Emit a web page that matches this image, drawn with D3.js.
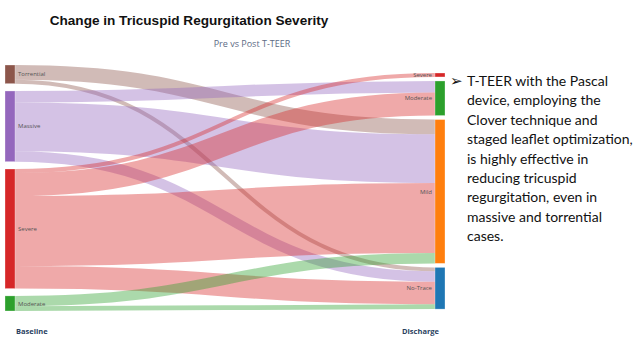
<!DOCTYPE html>
<html><head><meta charset="utf-8">
<script src="https://cdn.jsdelivr.net/npm/d3@7"></script>
<style>
body{margin:0;background:#fff;}
svg{display:block;}
</style></head>
<body>
<svg id="c" width="640" height="360"></svg>
<script>
// ---- data ----
const leftNodes = ["Torrential","Massive","Severe","Moderate"];
const rightNodes = ["Severe","Moderate","Mild","No-Trace"];
const leftColors = ["#8c564b","#9467bd","#d62728","#2ca02c"];
const rightColors = ["#d62728","#2ca02c","#ff7f0e","#1f77b4"];
const linkSource = [0,0, 1,1,1, 2,2,2,2, 3,3];
const linkTarget = [2,3, 1,2,3, 0,1,2,3, 2,3];
const linkValue  = [3.7,1, 2.9,12.3,2.6, 1,5.8,17.6,5.7, 2.6,1.2];
const columnLabels = ["Baseline","Discharge"];
const title = "Change in Tricuspid Regurgitation Severity";
const subtitle = "Pre vs Post T-TEER";
const noteLines = ["T-TEER with the Pascal","device, employing the","Clover technique and","staged leaflet optimization,","is highly effective in","reducing tricuspid","regurgitation, even in","massive and torrential","cases."];

// ---- layout ----
const svg = d3.select("#c");
const nodeW = 10;
const xScale = d3.scaleLinear().domain([0,1]).range([5,435]);
const total = d3.sum(linkValue);
const leftTop = 65, leftBottom = 311, padL = 7.3;
const k = (leftBottom - leftTop - padL*(leftNodes.length-1)) / total;
const vScale = d3.scaleLinear().domain([0,1]).range([0,k]);
const rightTop = 73, padR = 4;

function buildColumn(names, colors, side, top, pad){
  let y = top;
  return names.map((n,i)=>{
    const v = d3.sum(linkValue.filter((d,j)=> (side===0?linkSource[j]:linkTarget[j])===i));
    const node = {name:n,color:colors[i],value:v,x0:xScale(side),x1:xScale(side)+nodeW,y0:y,y1:y+vScale(v)};
    y = node.y1 + pad;
    return node;
  });
}
const L = buildColumn(leftNodes,leftColors,0,leftTop,padL);
const R = buildColumn(rightNodes,rightColors,1,rightTop,padR);

const links = linkValue.map((v,i)=>({s:linkSource[i],t:linkTarget[i],v,w:vScale(v)}));
L.forEach((n,i)=>{let y=n.y0; links.filter(l=>l.s===i).sort((a,b)=>a.t-b.t).forEach(l=>{l.sy=y+l.w/2;y+=l.w;});});
R.forEach((n,i)=>{let y=n.y0; links.filter(l=>l.t===i).sort((a,b)=>a.s-b.s).forEach(l=>{l.ty=y+l.w/2;y+=l.w;});});

const linkGen = d3.linkHorizontal();
svg.append("g").selectAll("path").data(links).join("path")
  .attr("d",l=>linkGen({source:[L[l.s].x1,l.sy],target:[R[l.t].x0,l.ty]}))
  .attr("fill","none")
  .attr("stroke",l=>L[l.s].color)
  .attr("stroke-opacity",0.4)
  .attr("stroke-width",l=>l.w);

const nodes = L.concat(R);
svg.append("g").selectAll("rect").data(nodes).join("rect")
  .attr("x",d=>d.x0).attr("y",d=>d.y0)
  .attr("width",nodeW).attr("height",d=>d.y1-d.y0)
  .attr("fill",d=>d.color).attr("stroke","rgba(255,255,255,0.6)").attr("stroke-width",0.5);

svg.append("g").selectAll("text").data(L).join("text")
  .attr("x",d=>d.x1+3).attr("y",d=>(d.y0+d.y1)/2).attr("dy","0.35em")
  .attr("font-family","Open Sans, sans-serif").attr("font-size",6).attr("fill","#555")
  .text(d=>d.name);
svg.append("g").selectAll("text").data(R).join("text")
  .attr("x",d=>d.x0-3).attr("y",d=>(d.y0+d.y1)/2).attr("dy","0.35em")
  .attr("text-anchor","end")
  .attr("font-family","Open Sans, sans-serif").attr("font-size",6).attr("fill","#555")
  .text(d=>d.name);

// titles
svg.append("text").attr("x",189).attr("y",25).attr("text-anchor","middle")
  .attr("font-family","Liberation Sans, Arial, sans-serif").attr("font-weight","bold")
  .attr("font-size",13.6).attr("fill","#111").text(title);
svg.append("text").attr("x",252).attr("y",47).attr("text-anchor","middle")
  .attr("font-family","Open Sans, sans-serif")
  .attr("font-size",9).attr("fill","#5d6b85").text(subtitle);

// column labels
svg.append("g").selectAll("text").data(columnLabels).join("text")
  .attr("x",(d,i)=> i===0 ? xScale(0)+11 : xScale(1)+4)
  .attr("y",334)
  .attr("text-anchor",(d,i)=> i===0 ? "start":"end")
  .attr("font-family","Open Sans, sans-serif").attr("font-weight","bold")
  .attr("font-size",7.5).attr("fill","#2a3f5f").text(d=>d);

// note text
svg.append("text").attr("x",450).attr("y",86)
  .attr("font-family","DejaVu Sans, sans-serif").attr("font-size",15).attr("fill","#111").text("➢");
const note = svg.append("text").attr("font-family","Lato, sans-serif").attr("font-size",14).attr("fill","#111");
note.selectAll("tspan").data(noteLines).join("tspan")
  .attr("x",467).attr("y",(d,i)=>86+i*19.4).text(d=>d);
</script>
</body></html>
